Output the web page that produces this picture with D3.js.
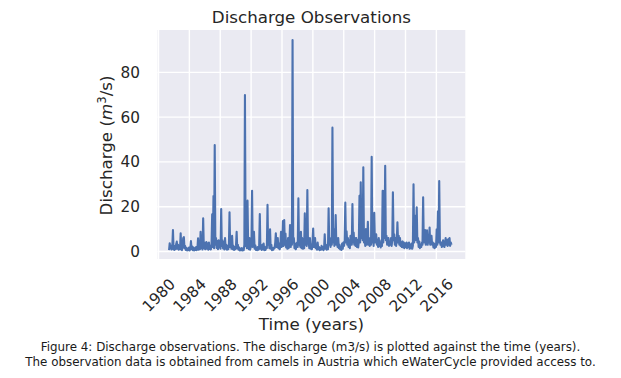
<!DOCTYPE html>
<html>
<head>
<meta charset="utf-8">
<script src="https://cdn.jsdelivr.net/npm/d3@7"></script>
<style>
  body { margin: 0; background: #fff; }
  svg { display: block; font-family: "DejaVu Sans", sans-serif; }
</style>
</head>
<body>
<div id="chart"></div>
<script>
// Monthly discharge (m3/s), starting May 1981
const startMonth = "1981-05";
const discharge = [
  /* 1981 May-Dec */ 0.6, 3.7, 1.4, 2.6, 0.9, 2.2, 9.6, 1.1,
  /* 1982 */ 0.7, 2.4, 1.0, 3.2, 4.4, 1.2, 3.0, 0.8, 2.6, 1.0, 8.1, 1.4,
  /* 1983 */ 0.6, 2.2, 6.0, 6.4, 1.5, 2.4, 0.7, 1.6, 0.5, 1.3, 0.6, 1.8,
  /* 1984 */ 0.5, 1.4, 4.7, 1.0, 2.2, 0.6, 1.8, 0.5, 1.4, 0.7, 2.0, 0.6,
  /* 1985 */ 1.2, 5.9, 0.8, 3.2, 1.0, 8.8, 1.5, 3.0, 0.9, 14.8, 1.6, 4.0,
  /* 1986 */ 1.0, 3.0, 4.2, 1.2, 3.5, 0.8, 4.0, 1.1, 2.6, 0.9, 3.2, 16.6,
  /* 1987 */ 2.0, 24.8, 1.5, 47.5, 3.0, 6.0, 1.6, 4.5, 1.0, 5.0, 1.8, 3.5,
  /* 1988 */ 1.2, 19.0, 2.5, 5.0, 1.4, 4.2, 0.9, 6.0, 1.2, 3.0, 0.8, 2.4,
  /* 1989 */ 1.0, 3.5, 17.5, 2.0, 4.0, 1.2, 7.0, 1.0, 2.5, 0.7, 2.0, 1.0,
  /* 1990 */ 2.5, 8.8, 1.4, 3.0, 0.8, 1.8, 0.5, 1.2, 0.6, 1.5, 0.5, 1.4,
  /* 1991 */ 0.6, 3.0, 69.9, 2.5, 6.0, 1.5, 22.7, 2.0, 1.0, 6.0, 0.8, 2.0,
  /* 1992 */ 3.5, 27.1, 2.0, 5.0, 8.8, 1.2, 2.8, 0.7, 1.8, 0.6, 2.0, 0.8,
  /* 1993 */ 2.5, 16.7, 1.2, 2.8, 0.7, 3.0, 1.0, 3.5, 0.6, 1.8, 0.7, 2.2,
  /* 1994 */ 1.5, 20.8, 3.0, 5.0, 1.5, 9.9, 1.2, 3.0, 0.6, 1.6, 0.8, 1.8,
  /* 1995 */ 1.5, 4.0, 8.1, 2.0, 4.5, 6.0, 1.5, 3.5, 1.0, 2.5, 8.8, 2.0,
  /* 1996 */ 3.0, 13.6, 2.5, 14.0, 3.0, 8.0, 1.8, 4.5, 1.2, 6.0, 1.5, 3.0,
  /* 1997 */ 11.8, 2.0, 4.5, 3.0, 94.4, 4.0, 6.0, 1.5, 3.5, 1.0, 2.8, 4.0,
  /* 1998 */ 2.0, 23.7, 3.0, 5.0, 2.0, 8.8, 1.5, 6.0, 1.2, 4.0, 1.5, 17.0,
  /* 1999 */ 3.0, 6.0, 2.5, 27.4, 3.5, 5.0, 1.5, 6.0, 1.2, 3.0, 1.0, 4.0,
  /* 2000 */ 10.3, 2.0, 4.0, 6.0, 1.5, 3.0, 0.8, 4.0, 1.0, 2.0, 0.6, 1.5,
  /* 2001 */ 0.8, 2.5, 1.0, 2.0, 0.6, 1.5, 7.7, 1.2, 3.0, 0.8, 2.5, 1.0,
  /* 2002 */ 19.3, 3.0, 6.0, 2.0, 5.0, 3.0, 55.3, 4.0, 10.0, 2.5, 4.0, 16.3,
  /* 2003 */ 3.0, 6.0, 2.0, 6.0, 1.5, 3.0, 1.0, 2.0, 0.7, 3.5, 1.2, 4.0,
  /* 2004 */ 2.5, 5.0, 21.8, 4.0, 9.0, 3.0, 6.0, 2.0, 5.0, 1.5, 7.0, 3.0,
  /* 2005 */ 3.0, 21.2, 4.0, 8.5, 3.0, 6.0, 2.5, 6.0, 2.0, 5.0, 1.8, 4.5,
  /* 2006 */ 24.9, 4.0, 30.9, 6.0, 10.0, 5.0, 37.6, 4.0, 6.0, 2.5, 10.0, 3.0,
  /* 2007 */ 5.0, 13.3, 3.0, 6.0, 2.5, 5.0, 3.0, 42.3, 4.0, 7.0, 2.5, 17.3,
  /* 2008 */ 4.0, 6.0, 7.7, 3.0, 5.0, 2.0, 6.0, 2.5, 4.0, 1.8, 5.0, 2.5,
  /* 2009 */ 27.1, 4.0, 27.0, 6.0, 38.3, 5.0, 7.0, 3.0, 5.0, 6.0, 2.5, 4.0,
  /* 2010 */ 3.0, 6.0, 2.5, 5.0, 26.4, 5.0, 7.7, 3.0, 6.0, 2.5, 5.0, 13.0,
  /* 2011 */ 4.0, 7.0, 3.0, 6.0, 2.5, 4.0, 2.0, 4.5, 1.8, 4.0, 1.5, 3.5,
  /* 2012 */ 2.0, 4.0, 1.5, 3.5, 2.0, 4.0, 1.2, 3.0, 1.5, 3.5, 1.2, 2.5,
  /* 2013 */ 30.0, 4.0, 16.0, 5.0, 6.0, 19.7, 4.0, 6.0, 2.0, 4.5, 1.5, 3.0,
  /* 2014 */ 2.0, 4.0, 3.0, 24.2, 4.0, 6.0, 9.6, 3.0, 6.0, 9.5, 3.0, 5.0,
  /* 2015 */ 4.0, 10.7, 3.0, 6.0, 7.0, 3.0, 4.0, 1.8, 3.5, 1.5, 3.0, 2.0,
  /* 2016 */ 9.9, 3.0, 18.0, 4.0, 31.5, 5.0, 3.0, 4.0, 2.0, 3.5, 5.0, 2.5,
  /* 2017 */ 2.0, 4.0, 6.0, 3.0, 5.0, 2.5, 5.5, 3.0, 6.0, 2.5, 4.0, 3.0
];
const yTicks = [0, 20, 40, 60, 80];
const xTickYears = [1980, 1984, 1988, 1992, 1996, 2000, 2004, 2008, 2012, 2016];
const captionLines = [
  "Figure 4: Discharge observations. The discharge (m3/s) is plotted against the time (years).",
  "The observation data is obtained from camels in Austria which eWaterCycle provided access to."
];

const W = 621, H = 378;
const plot = { left: 157.5, right: 465.3, top: 30, bottom: 259 };
const textColor = "#262626";

const parseMonth = d3.timeParse("%Y-%m");
const start = parseMonth(startMonth);
const data = discharge.map((v, i) => ({
  date: d3.timeDay.offset(d3.timeMonth.offset(start, i), 14),
  value: v
}));

const svg = d3.select("#chart").append("svg")
  .attr("width", W)
  .attr("height", H);

// scales
const x = d3.scaleTime()
  .domain([new Date(1979, 10, 15), new Date(2019, 9, 1)])
  .range([plot.left, plot.right]);

const y = d3.scaleLinear()
  .domain([-3.35, 98.9])
  .range([plot.bottom, plot.top]);

// background
svg.append("rect")
  .attr("x", plot.left)
  .attr("y", plot.top)
  .attr("width", plot.right - plot.left)
  .attr("height", plot.bottom - plot.top)
  .attr("fill", "#eaeaf2");

const xTickDates = xTickYears.map(yr => new Date(yr, 0, 1));

// grid
svg.append("g")
  .selectAll("line")
  .data(yTicks)
  .join("line")
  .attr("x1", plot.left).attr("x2", plot.right)
  .attr("y1", d => y(d)).attr("y2", d => y(d))
  .attr("stroke", "#fff")
  .attr("stroke-width", 1.4);

svg.append("g")
  .selectAll("line")
  .data(xTickDates)
  .join("line")
  .attr("x1", d => x(d)).attr("x2", d => x(d))
  .attr("y1", plot.top).attr("y2", plot.bottom)
  .attr("stroke", "#fff")
  .attr("stroke-width", 1.4);

// discharge line
const line = d3.line()
  .x(d => x(d.date))
  .y(d => y(d.value));

svg.append("path")
  .datum(data)
  .attr("d", line)
  .attr("fill", "none")
  .attr("stroke", "#4c72b0")
  .attr("stroke-width", 2.1)
  .attr("stroke-linejoin", "round");

// y tick labels
svg.append("g")
  .selectAll("text")
  .data(yTicks)
  .join("text")
  .attr("x", 140)
  .attr("y", d => y(d))
  .attr("dy", "0.36em")
  .attr("text-anchor", "end")
  .attr("font-size", 15.3)
  .attr("fill", textColor)
  .text(d => d);

// x tick labels, rotated 45
svg.append("g")
  .selectAll("text")
  .data(xTickDates)
  .join("text")
  .attr("transform", d => `translate(${x(d)},295) rotate(-45)`)
  .attr("text-anchor", "middle")
  .attr("dy", "0.36em")
  .attr("font-size", 15.3)
  .attr("fill", textColor)
  .text(d => d3.timeFormat("%Y")(d));

// title
svg.append("text")
  .attr("x", (plot.left + plot.right) / 2)
  .attr("y", 22.5)
  .attr("text-anchor", "middle")
  .attr("font-size", 16.7)
  .attr("fill", textColor)
  .text("Discharge Observations");

// axis labels
svg.append("text")
  .attr("x", (plot.left + plot.right) / 2)
  .attr("y", 329.5)
  .attr("text-anchor", "middle")
  .attr("font-size", 16.7)
  .attr("fill", textColor)
  .text("Time (years)");

const yLabel = svg.append("text")
  .attr("transform", "translate(112,145.5) rotate(-90)")
  .attr("text-anchor", "middle")
  .attr("font-size", 16.7)
  .attr("fill", textColor);
yLabel.append("tspan").text("Discharge (");
yLabel.append("tspan").attr("font-style", "italic").text("m");
yLabel.append("tspan").attr("font-size", 11.7).attr("baseline-shift", "6").text("3");
yLabel.append("tspan").text("/s)");

// caption
svg.append("g")
  .selectAll("text")
  .data(captionLines)
  .join("text")
  .attr("x", 310.5)
  .attr("y", (d, i) => 351 + i * 15)
  .attr("text-anchor", "middle")
  .attr("font-size", 11.9)
  .attr("fill", "#1a1a1a")
  .text(d => d);
</script>
</body>
</html>
